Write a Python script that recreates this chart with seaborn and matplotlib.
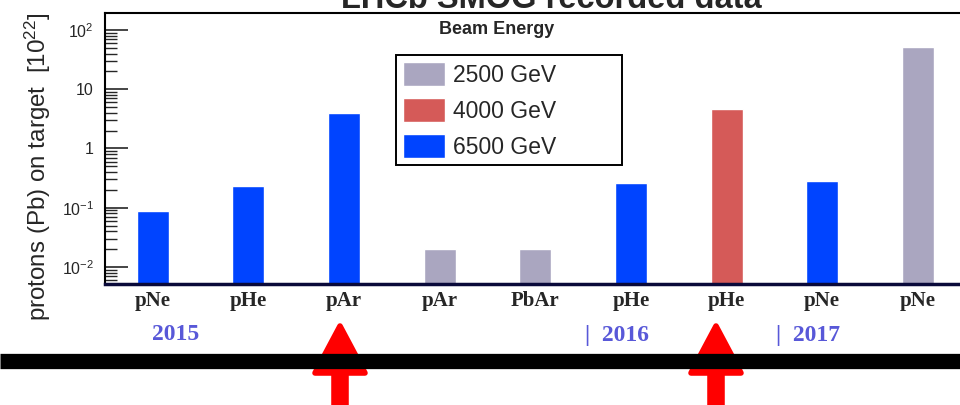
import matplotlib
matplotlib.use("Agg")
import matplotlib.pyplot as plt
import seaborn as sns
import pandas as pd
from matplotlib.patches import Polygon, Rectangle
from matplotlib.ticker import LogLocator, FixedLocator, NullFormatter

# ---- data ----
targets = ["pNe", "pHe", "pAr", "pAr", "PbAr", "pHe", "pHe", "pNe", "pNe"]
energies = ["6500 GeV", "6500 GeV", "6500 GeV", "2500 GeV", "2500 GeV",
            "6500 GeV", "4000 GeV", "6500 GeV", "2500 GeV"]
values = [0.089, 0.236, 3.9, 0.020, 0.020, 0.265, 4.6, 0.28, 51.0]
energy_order = ["2500 GeV", "4000 GeV", "6500 GeV"]
energy_colors = ["#aaa6c0", "#d55a58", "#0044ff"]
ytick_vals = [0.01, 0.1, 1, 10, 100]
ytick_labels = ["$10^{-2}$", "$10^{-1}$", "1", "10", "$10^{2}$"]
years = ["2015", "|  2016", "|  2017"]
title = "LHCb SMOG recorded data"

sns.set_style("white")
plt.rcParams["font.family"] = ["Liberation Sans", "DejaVu Sans"]
plt.rcParams["mathtext.fontset"] = "custom"
plt.rcParams["mathtext.rm"] = "Liberation Sans"
plt.rcParams["mathtext.it"] = "Liberation Sans"
plt.rcParams["mathtext.default"] = "regular"

W, H = 960, 405
AXW, AXH = 965.6 - 105, 284 - 12.5
fig = plt.figure(figsize=(9.6, 4.05), dpi=100)
ax = fig.add_axes([105 / W, 1 - 284 / H, AXW / W, AXH / H])

run_ids = [f"r{i}" for i in range(len(targets))]
df = pd.DataFrame({"run": run_ids, "energy": energies, "value": values})

sns.barplot(data=df, x="run", y="value", hue="energy", hue_order=energy_order,
            palette=energy_colors, dodge=False, width=0.335, ax=ax,
            legend=True, saturation=1)
ax.set_yscale("log")

ax.set_xlim(-0.5, 8.5)
ax.set_ylim(0.00516, 197)
ax.set_xlabel("")
ax.set_ylabel("protons (Pb) on target  [$10^{22}$]", fontsize=17.4)
ax.yaxis.set_label_coords(-0.0605, 0.43)

ax.set_xticks(range(len(targets)))
ax.set_xticklabels(targets, family="Liberation Serif", fontweight="bold", fontsize=15)
ax.tick_params(axis="x", length=0, pad=5)

ax.yaxis.set_major_locator(FixedLocator(ytick_vals))
ax.set_yticklabels(ytick_labels, fontsize=11.5)
ax.yaxis.set_minor_locator(LogLocator(base=10, subs=range(2, 10), numticks=20))
ax.yaxis.set_minor_formatter(NullFormatter())
ax.tick_params(axis="y", which="major", direction="in", length=16.5, width=1.2, pad=8, left=True)
ax.tick_params(axis="y", which="minor", direction="in", length=8.5, width=1.0, left=True)

for s in ["left", "top"]:
    ax.spines[s].set_color("black")
    ax.spines[s].set_linewidth(1.5)
ax.spines["right"].set_visible(False)
ax.spines["bottom"].set_color("#0a0a3a")
ax.spines["bottom"].set_linewidth(2.5)

# legend (box drawn separately to match the wide frame)
leg = ax.legend(loc="upper left", bbox_to_anchor=((403 - 105) / AXW, (284 - 62) / AXH),
                frameon=False, fontsize=16.5, handlelength=1.83, handleheight=1.22,
                borderpad=0.0, labelspacing=0.5, handletextpad=0.36, borderaxespad=0)
ax.add_patch(Rectangle(((396 - 105) / AXW, (284 - 165) / AXH), 226 / AXW, 110 / AXH,
                       transform=ax.transAxes, fill=False, edgecolor="black",
                       linewidth=1.4, zorder=5, clip_on=False))

ax.text((497 - 105) / AXW, (284 - 30) / AXH, "Beam Energy", transform=ax.transAxes,
        ha="center", va="center", fontsize=13, fontweight="bold")

# title (cut off at top, as in the reference)
fig.text(551 / W, 1 - 8 / H, title, ha="center", va="baseline",
         fontsize=23.5, fontweight="bold")

# year labels
year_x = [176, 617, 808]
for yx, yt in zip(year_x, years):
    fig.text(yx / W, 1 - 335 / H, yt, ha="center", va="center", color="#5858d8",
             family="Liberation Serif", fontweight="bold", fontsize=17)

# thick black timeline
fig.add_artist(plt.Line2D([0, 1], [1 - 360.5 / H, 1 - 360.5 / H], color="black",
                          linewidth=11, transform=fig.transFigure, solid_capstyle="butt"))

# red arrows (pixel coordinates converted to inches)
def arrow(cx):
    pts = [(cx, 326), (cx + 25, 373), (cx + 6, 373), (cx + 6, 410),
           (cx - 6, 410), (cx - 6, 373), (cx - 25, 373)]
    pts = [(x / 100, (H - y) / 100) for x, y in pts]
    p = Polygon(pts, closed=True, facecolor="#ff0000", edgecolor="#ff0000",
                linewidth=4, joinstyle="round", transform=fig.dpi_scale_trans)
    fig.add_artist(p)

arrow(340)
arrow(716)

fig.savefig("out.png", dpi=100)
